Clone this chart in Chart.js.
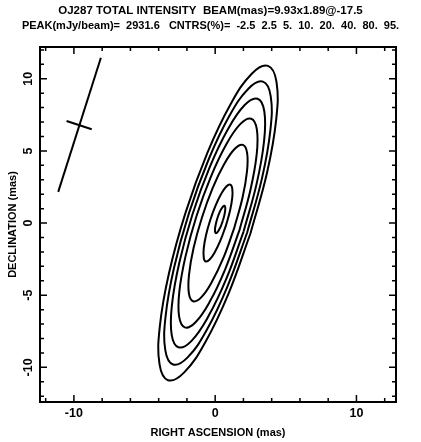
<!DOCTYPE html>
<html>
<head>
<meta charset="utf-8">
<script src="https://cdn.jsdelivr.net/npm/chart.js@4.4.1/dist/chart.umd.min.js"></script>
<style>
  html, body { margin: 0; padding: 0; background: #fff; }
</style>
</head>
<body>
<canvas id="myChart" width="421" height="442"></canvas>
<script>
const titleLine1 = 'OJ287 TOTAL INTENSITY  BEAM(mas)=9.93x1.89@-17.5';
const titleLine2 = 'PEAK(mJy/beam)=  2931.6   CNTRS(%)=  -2.5  2.5  5.  10.  20.  40.  80.  95.';
const xTitle = 'RIGHT ASCENSION (mas)';
const yTitle = 'DECLINATION (mas)';
const xTickLabels = [-10, 0, 10];
const yTickLabels = [-10, -5, 0, 5, 10];
const xMinorTicks = [-12, -10, -8, -6, -4, -2, 0, 2, 4, 6, 8, 10, 12];
const yMinorTicks = [-12, -11, -10, -9, -8, -7, -6, -5, -4, -3, -2, -1, 0, 1, 2, 3, 4, 5, 6, 7, 8, 9, 10, 11, 12];

// contour levels in % of peak, and the rings (x = RA, y = Dec, mas)
const levels = [2.5, 5, 10, 20, 40, 80, 95];
const contour2p5 = [[2.49,-0.74],[0.96,-4.85],[-0.68,-8.22],[-2.19,-10.35],[-3.34,-10.89],[-3.94,-9.78],[-3.92,-7.18],[-3.27,-3.48],[-2.09,0.74],[-0.56,4.85],[1.08,8.22],[2.59,10.35],[3.74,10.89],[4.34,9.78],[4.32,7.18],[3.67,3.48]];
const contour5 = [[2.26,-0.67],[0.88,-4.37],[-0.59,-7.40],[-1.95,-9.31],[-2.98,-9.80],[-3.53,-8.80],[-3.51,-6.46],[-2.92,-3.13],[-1.86,0.67],[-0.48,4.37],[0.99,7.40],[2.35,9.31],[3.38,9.80],[3.93,8.80],[3.91,6.46],[3.32,3.13]];
const contour10 = [[2.01,-0.59],[0.80,-3.84],[-0.50,-6.50],[-1.69,-8.18],[-2.60,-8.61],[-3.08,-7.73],[-3.06,-5.67],[-2.54,-2.75],[-1.61,0.59],[-0.40,3.84],[0.90,6.50],[2.09,8.18],[3.00,8.61],[3.48,7.73],[3.46,5.67],[2.94,2.75]];
const contour20 = [[1.72,-0.49],[0.70,-3.22],[-0.39,-5.46],[-1.39,-6.87],[-2.15,-7.23],[-2.55,-6.49],[-2.54,-4.77],[-2.10,-2.31],[-1.32,0.49],[-0.30,3.22],[0.79,5.46],[1.79,6.87],[2.55,7.23],[2.95,6.49],[2.94,4.77],[2.50,2.31]];
const contour40 = [[1.34,-0.37],[0.58,-2.42],[-0.24,-4.09],[-0.99,-5.15],[-1.56,-5.42],[-1.86,-4.87],[-1.85,-3.57],[-1.53,-1.73],[-0.94,0.37],[-0.18,2.42],[0.64,4.09],[1.39,5.15],[1.96,5.42],[2.26,4.87],[2.25,3.57],[1.93,1.73]];
const contour80 = [[0.76,-0.18],[0.38,-1.19],[-0.02,-2.01],[-0.39,-2.53],[-0.67,-2.66],[-0.81,-2.39],[-0.81,-1.76],[-0.65,-0.85],[-0.36,0.18],[0.02,1.19],[0.42,2.01],[0.79,2.53],[1.07,2.66],[1.21,2.39],[1.21,1.76],[1.05,0.85]];
const contour95 = [[0.55,0.19],[0.42,-0.17],[0.27,-0.47],[0.14,-0.65],[0.04,-0.70],[-0.01,-0.60],[-0.01,-0.38],[0.05,-0.05],[0.15,0.32],[0.28,0.67],[0.43,0.97],[0.56,1.15],[0.66,1.20],[0.71,1.10],[0.71,0.88],[0.65,0.55]];

// restoring beam cross
const beamMajor = [[-11.11, 2.16], [-8.09, 11.46]];
const beamMinor = [[-10.52, 7.07], [-8.74, 6.50]];

const fontFamily = '"Liberation Sans", Arial, sans-serif';

function ring(points) {
  const d = points.map(p => ({ x: p[0], y: p[1] }));
  d.push({ x: points[0][0], y: points[0][1] }); // close the loop
  return d;
}

function lineSet(label, data, tension) {
  return {
    label: label,
    data: data,
    showLine: true,
    fill: false,
    borderColor: '#000',
    borderWidth: 2,
    pointRadius: 0,
    tension: tension,
  };
}

const contours = [contour2p5, contour5, contour10, contour20, contour40, contour80, contour95];
const datasets = contours.map((c, i) => lineSet(levels[i] + '%', ring(c), 0.4));
datasets.push(lineSet('beam major', beamMajor.map(p => ({ x: p[0], y: p[1] })), 0));
datasets.push(lineSet('beam minor', beamMinor.map(p => ({ x: p[0], y: p[1] })), 0));

// box, inward ticks on all four sides and the rotated Dec labels
const frameTicks = {
  id: 'frameTicks',
  afterDatasetsDraw(chart) {
    const ctx = chart.ctx;
    const a = chart.chartArea;
    const x = chart.scales.x;
    const y = chart.scales.y;
    ctx.save();
    ctx.strokeStyle = '#000';
    ctx.lineWidth = 2;
    ctx.strokeRect(a.left, a.top, a.right - a.left, a.bottom - a.top);
    ctx.lineWidth = 1.5;
    ctx.beginPath();
    xMinorTicks.forEach(v => {
      const px = x.getPixelForValue(v);
      const len = v % 10 === 0 ? 7 : 4;
      ctx.moveTo(px, a.bottom); ctx.lineTo(px, a.bottom - len);
      ctx.moveTo(px, a.top); ctx.lineTo(px, a.top + len);
    });
    yMinorTicks.forEach(v => {
      const py = y.getPixelForValue(v);
      const len = v % 5 === 0 ? 7 : 4;
      ctx.moveTo(a.left, py); ctx.lineTo(a.left + len, py);
      ctx.moveTo(a.right, py); ctx.lineTo(a.right - len, py);
    });
    ctx.stroke();
    ctx.fillStyle = '#000';
    ctx.font = 'bold 12.5px ' + fontFamily;
    ctx.textAlign = 'center';
    ctx.textBaseline = 'middle';
    yTickLabels.forEach(v => {
      const py = y.getPixelForValue(v);
      ctx.save();
      ctx.translate(a.left - 11, py);
      ctx.rotate(-Math.PI / 2);
      ctx.fillText(String(v), 0, 0);
      ctx.restore();
    });
    ctx.restore();
  }
};

const ctx = document.getElementById('myChart').getContext('2d');
const chart = new Chart(ctx, {
  type: 'scatter',
  data: { datasets: datasets },
  options: {
    responsive: false,
    animation: false,
    layout: { padding: 0 },
    plugins: {
      legend: { display: false },
      tooltip: { enabled: false },
      title: {
        display: true,
        text: titleLine1,
        color: '#000',
        font: { family: fontFamily, size: 11.5, weight: 'bold', lineHeight: 1.2 },
        padding: { top: 4, bottom: 0 },
      },
      subtitle: {
        display: true,
        text: titleLine2,
        color: '#000',
        font: { family: fontFamily, size: 11, weight: 'bold', lineHeight: 1.2 },
        padding: { top: 2, bottom: 14 },
      },
    },
    scales: {
      x: {
        type: 'linear',
        min: -12.4,
        max: 12.8,
        grid: { display: false, drawTicks: false },
        border: { display: false },
        afterBuildTicks: (scale) => { scale.ticks = xTickLabels.map(v => ({ value: v })); },
        ticks: { color: '#000', font: { family: fontFamily, size: 12.5, weight: 'bold' }, padding: 4, autoSkip: false, maxRotation: 0 },
        title: { display: true, text: xTitle, color: '#000', font: { family: fontFamily, size: 11, weight: 'bold' }, padding: { top: 0, bottom: 2 } },
        afterFit: (scale) => { scale.height = 40; },
      },
      y: {
        type: 'linear',
        min: -12.4,
        max: 12.2,
        grid: { display: false, drawTicks: false },
        border: { display: false },
        ticks: { display: false },
        title: { display: true, text: yTitle, color: '#000', font: { family: fontFamily, size: 11, weight: 'bold' }, padding: { top: 6, bottom: 0 } },
        afterFit: (scale) => { scale.width = 40; },
      },
      yRight: {
        type: 'linear',
        position: 'right',
        display: true,
        grid: { display: false, drawTicks: false },
        border: { display: false },
        ticks: { display: false },
        afterFit: (scale) => { scale.width = 25; },
      },
    },
  },
  plugins: [frameTicks],
});
</script>
</body>
</html>
